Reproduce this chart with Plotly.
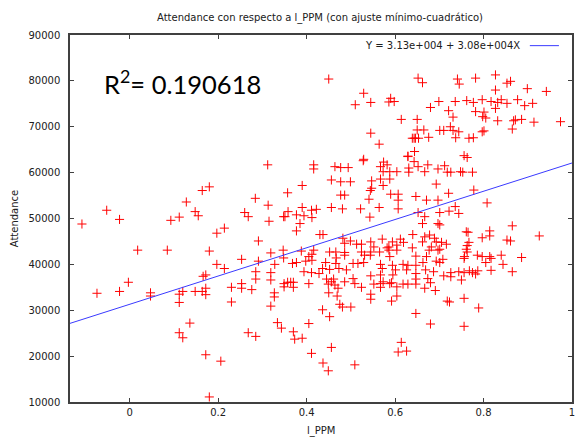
import plotly.graph_objects as go

# ---- data (l_PPM, Attendance) ----
l_ppm = [
    -0.108, -0.052, -0.023, 0.018, 0.085, -0.003, 0.093, 0.112, 0.128,
    -0.074, -0.023, 0.047, 0.047, 0.112, 0.120, 0.112, 0.112, 0.120, 0.136,
    0.148, 0.164, 0.172, 0.172, 0.230, 0.230, 0.253, 0.253, 0.276, 0.319, 0.327, 0.327, 0.319,
    0.349, 0.349, 0.357, 0.364, 0.370, 0.370, 0.405, 0.268, 0.285, 0.334, 0.343, 0.370, 0.373,
    0.390, 0.405, 0.411, 0.172, 0.206, 0.180,
    0.449, 0.456, 0.464, 0.471, 0.486, 0.509, 0.524, 0.450, 0.469, 0.475, 0.481, 0.500, 0.436,
    0.452, 0.545, 0.545, 0.552, 0.567, 0.567, 0.573, 0.588, 0.592, 0.604, 0.604, 0.592, 0.618,
    0.629, 0.647, 0.667, 0.680, 0.691, 0.647, 0.680, 0.614, 0.607, 0.626, 0.456, 0.437, 0.449, 0.509,
    0.750, 0.718, 0.723, 0.756, 0.789, 0.756,
    0.450, 0.529, 0.510, 0.545, 0.590, 0.586, 0.598, 0.652, 0.662, 0.699, 0.680, 0.614, 0.650,
    0.650, 0.665, 0.676, 0.639, 0.643, 0.646, 0.653, 0.545, 0.564, 0.644, 0.629, 0.529,
    0.741, 0.745, 0.782, 0.827, 0.827, 0.853, 0.861, 0.899, 0.942, 0.736, 0.762, 0.777, 0.797,
    0.817, 0.832, 0.840, 0.853, 0.877, 0.893, 0.911, 0.721, 0.731, 0.782, 0.801, 0.798, 0.805,
    0.827, 0.832, 0.872, 0.868, 0.886, 0.914, 0.974, 0.701, 0.710, 0.725, 0.731, 0.744, 0.737,
    0.767, 0.777, 0.797, 0.801, 0.865, 0.756, 0.763,
    0.312, 0.416, 0.416, 0.164, 0.180, 0.148, 0.155, 0.284, 0.313, 0.357, 0.390, 0.260, 0.268,
    0.315, 0.348, 0.351, 0.358, 0.377, 0.390, 0.394, 0.411, 0.412, 0.385, 0.377, 0.197, 0.214,
    0.291, 0.180, 0.319, 0.347, 0.348, 0.388, 0.197, 0.214, 0.253, 0.291, 0.328, 0.285, 0.319,
    0.166, 0.172, 0.285, 0.368, 0.377, 0.398, 0.405, 0.412, 0.412, 0.411, 0.394,
    0.528, 0.574, 0.582, 0.567, 0.629, 0.643, 0.652, 0.674, 0.464, 0.477, 0.494, 0.573, 0.588,
    0.604, 0.631, 0.631, 0.667, 0.697, 0.456, 0.477, 0.499, 0.547, 0.567, 0.588, 0.573, 0.547,
    0.544, 0.477, 0.486, 0.590, 0.607, 0.647, 0.541, 0.607, 0.671, 0.697, 0.456, 0.422, 0.481,
    0.522, 0.564, 0.607, 0.543, 0.652, 0.667, 0.662, 0.697, 0.430, 0.437, 0.482, 0.499, 0.571,
    0.612, 0.594, 0.640, 0.667, 0.678, 0.689, 0.486, 0.513, 0.524, 0.545, 0.552, 0.582, 0.586,
    0.604, 0.619, 0.639, 0.662, 0.682, 0.693, 0.416, 0.452, 0.466, 0.486, 0.524, 0.545, 0.565,
    0.586, 0.604, 0.677, 0.697, 0.467, 0.486, 0.531, 0.544, 0.588, 0.647, 0.671, 0.443, 0.466,
    0.505, 0.516, 0.529, 0.567, 0.594, 0.618, 0.629, 0.647, 0.663, 0.693, 0.436, 0.452, 0.473,
    0.490, 0.571, 0.601, 0.626, 0.647, 0.669, 0.687, 0.428, 0.445, 0.461, 0.505, 0.545, 0.567,
    0.595, 0.647, 0.674,
    0.712, 0.718, 0.726, 0.748, 0.753, 0.775, 0.693, 0.778, 0.721, 0.736, 0.808, 0.701, 0.722,
    0.744, 0.701, 0.761, 0.765, 0.814, 0.814, 0.797, 0.865, 0.926, 0.853, 0.861, 0.705, 0.716,
    0.767, 0.763, 0.761, 0.701, 0.763, 0.786, 0.797, 0.814, 0.817, 0.840, 0.886, 0.757, 0.756,
    0.708, 0.701, 0.805, 0.844, 0.744, 0.756, 0.768, 0.775, 0.782, 0.787, 0.726, 0.726, 0.710,
    0.865, 0.817,
]
attendance = [
    48800, 51800, 49800, 43100, 43100, 36100, 49600, 50300, 53600,
    33700, 34100, 33800, 33100, 33500, 34100, 31700, 25100, 24000, 27200,
    34100, 34100, 34800, 33400, 35000, 31800, 35800, 34800, 34500, 36600, 33800, 32900, 30900,
    35800, 35100, 36100, 36100, 36100, 35000, 35800, 25100, 24300, 27300, 26100, 25300, 23700,
    23900, 27100, 20600, 20300, 18900, 11100,
    35700, 36200, 35500, 34800, 36200, 35800, 35000, 33800, 33100, 31300, 30700, 30700, 30100,
    28600, 33500, 32400, 35700, 35800, 35000, 36200, 35800, 36000, 35100, 33100, 32000, 35700,
    35700, 35700, 34800, 36000, 34300, 29300, 27000, 23000, 20900, 21100, 21900, 18500, 16800, 18100,
    36600, 32000, 31800, 32600, 30500, 26500,
    80400, 77300, 74800, 75300, 76200, 75400, 75500, 80600, 79600, 75500, 74200, 71600, 71600,
    69300, 69300, 67700, 67500, 67500, 67500, 67500, 68600, 66200, 64600, 63600, 62900,
    80400, 79300, 80600, 81300, 78000, 79500, 79900, 78300, 77700, 75500, 75700, 75300, 75900,
    75500, 75300, 75900, 75100, 75900, 74600, 75100, 73500, 72100, 73300, 73200, 72200, 71900,
    74000, 71300, 71500, 71300, 71600, 71000, 71100, 69200, 69200, 70000, 69200, 68900, 67600,
    67500, 67600, 68900, 69100, 69500, 63700, 63300,
    61700, 61700, 60800, 56100, 56900, 51500, 50600, 54400, 52900, 55600, 57200, 51300, 50400,
    49400, 50400, 50400, 51500, 50800, 52400, 50600, 51800, 50200, 48900, 47300, 46800, 47900,
    45100, 42900, 42500, 43100, 41400, 42900, 40000, 39100, 41100, 40700, 40000, 38400, 38200,
    37400, 37700, 36800, 40200, 40400, 40700, 41700, 40900, 42200, 38200, 38400,
    62600, 62300, 61700, 61300, 63500, 62400, 61300, 61700, 61300, 61100, 61100, 60200, 60200,
    60200, 61000, 60100, 60200, 60800, 58400, 58000, 58000, 58200, 58600, 58600, 57200, 56600,
    56100, 55100, 55100, 55300, 55300, 54800, 54200, 54000, 54000, 54000, 52400, 52000, 52100,
    52100, 52400, 52100, 50300, 51300, 50400, 48900, 48900, 46500, 46500, 45700, 45100, 45500,
    45500, 44900, 46500, 46000, 46400, 45700, 44600, 44400, 44400, 44900, 43800, 43600, 43800,
    44200, 44800, 43600, 44900, 43800, 44900, 43100, 42700, 42700, 42600, 42700, 42700, 42700,
    43100, 43100, 43100, 43100, 41400, 42000, 42000, 42000, 41700, 41800, 41700, 40400, 40200,
    40200, 40200, 40400, 40000, 39800, 40000, 39800, 39800, 40400, 40700, 39100, 38900, 39100,
    38800, 39100, 38800, 38800, 38000, 38800, 38400, 38000, 36800, 36800, 36900, 37500, 37700,
    37700, 36800, 36900,
    61500, 60100, 60100, 60200, 60100, 60100, 57500, 56200, 55500, 52600, 53400, 51300, 51600,
    51100, 48600, 47100, 47000, 47300, 46200, 45800, 48400, 46200, 45300, 45100, 44800, 44400,
    44800, 44100, 43300, 43300, 42700, 42000, 41700, 41700, 41300, 42000, 41500, 41700, 41300,
    41100, 40400, 40400, 40000, 38400, 38200, 38600, 38200, 37900, 38600, 38200, 37300, 37500,
    38400, 38700,
]

# least-squares fit given in the legend: Y = 3.13e+004 + 3.08e+004 X
fit_intercept = 31300
fit_slope = 30800
x_range = [-0.135, 1.0]
y_range = [10000, 90000]
x_ticks = [0, 0.2, 0.4, 0.6, 0.8, 1]
x_tick_text = ["0", "0.2", "0.4", "0.6", "0.8", "1"]
y_ticks = [10000, 20000, 30000, 40000, 50000, 60000, 70000, 80000, 90000]
y_tick_text = [str(v) for v in y_ticks]
r2_text = "R<sup>2</sup>= 0.190618"
legend_text = "Y = 3.13e+004 + 3.08e+004X"

fit_x = x_range
fit_y = [fit_intercept + fit_slope * v for v in fit_x]

fig = go.Figure()
fig.add_trace(go.Scatter(
    x=l_ppm, y=attendance, mode="markers",
    marker=dict(symbol="cross-thin", size=6.5, line=dict(color="#ff0000", width=1)),
    showlegend=False,
))
fig.add_trace(go.Scatter(
    x=fit_x, y=fit_y, mode="lines",
    line=dict(color="#3a3aff", width=1),
    showlegend=False,
))

font = dict(family="DejaVu Sans", size=10, color="#202020")
axis_common = dict(
    showgrid=False, zeroline=False, showline=True, mirror="ticks",
    linecolor="#404040", linewidth=1.5, ticks="inside", ticklen=4,
    tickcolor="#404040", tickfont=font, automargin=False,
    ticklabeloverflow="allow",
)
fig.update_layout(
    width=575, height=437,
    margin=dict(l=70, r=3, t=35, b=35),
    paper_bgcolor="white", plot_bgcolor="white",
    font=font,
    title=dict(text="Attendance con respecto a l_PPM (con ajuste mínimo-cuadrático)",
               x=0.5565, xanchor="center", y=0.961, yanchor="middle",
               font=dict(family="DejaVu Sans", size=10, color="#202020")),
    xaxis=dict(range=x_range, tickvals=x_ticks, ticktext=x_tick_text, **axis_common),
    yaxis=dict(range=y_range, tickvals=y_ticks, ticktext=y_tick_text,
               ticklabelstandoff=6, **axis_common),
    annotations=[
        dict(text=r2_text, x=-0.062, y=79800, xref="x", yref="y",
             xanchor="left", yanchor="middle", showarrow=False,
             font=dict(family="Lato", size=25.5, color="#000000")),
        dict(text=legend_text, x=0.900, y=0.971, xref="paper", yref="paper",
             xanchor="right", yanchor="middle", showarrow=False,
             font=dict(family="DejaVu Sans", size=10, color="#202020")),
        dict(text="l_PPM", x=0.5, y=-0.078, xref="paper", yref="paper",
             xanchor="center", yanchor="middle", showarrow=False, font=font),
        dict(text="Attendance", x=-0.110, y=0.5, xref="paper", yref="paper",
             xanchor="center", yanchor="middle", textangle=-90, showarrow=False, font=font),
    ],
    shapes=[
        dict(type="line", xref="paper", yref="paper", x0=0.916, x1=0.974,
             y0=0.971, y1=0.971, line=dict(color="#3a3aff", width=1)),
    ],
)

fig.write_html("out.html",
               config={"displayModeBar": False},
               post_script="document.body.style.margin='0';document.body.style.overflow='hidden';")
